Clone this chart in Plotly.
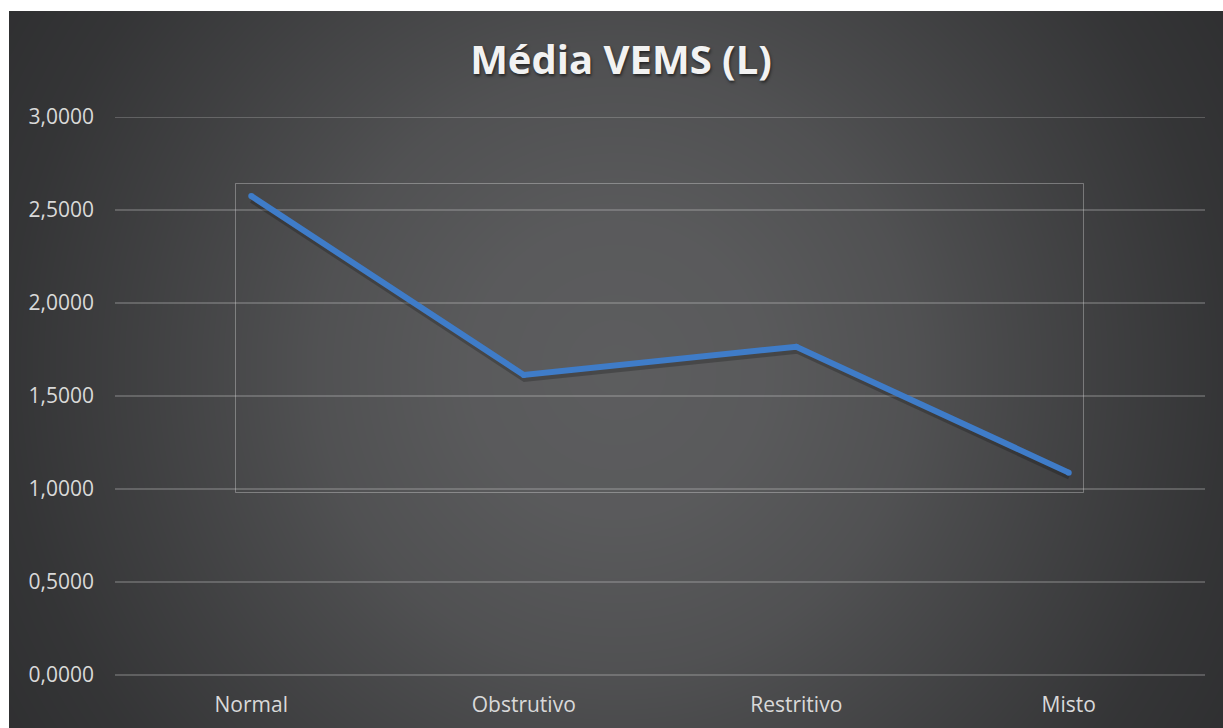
import base64
import struct
import zlib

import numpy as np
import plotly.graph_objects as go

# ---- data -------------------------------------------------------------
categories = ["Normal", "Obstrutivo", "Restritivo", "Misto"]
vems_mean = [2.575, 1.613, 1.765, 1.088]

y_range = [0, 3]
y_dtick = 0.5

# ---- figure geometry (px) ---------------------------------------------
W, H = 1223, 728
ML, MR, MT, MB = 115, 18, 117, 53
plot_w = W - ML - MR
plot_h = H - MT - MB

# chart-area panel (dark gradient) inside a thin white border
PANEL_X0, PANEL_Y0 = 9, 11
panel_w, panel_h = W - PANEL_X0, H - PANEL_Y0


def radial_panel_png(w, h):
    """Dark radial gradient, lighter in the middle, encoded as a PNG."""
    yy, xx = np.mgrid[0:h, 0:w].astype(float)
    cx, cy = w / 2.0, h / 2.0
    r = np.hypot(xx - cx, yy - cy)
    stops_r = [0, 150, 300, 360, 480, 607, 720]
    stops_v = [93, 90, 81, 75, 64, 53, 47]
    v = np.interp(r, stops_r, stops_v)
    rgb = np.stack([v, v + 0.5, v + 2.0], axis=-1).clip(0, 255).astype(np.uint8)
    raw = b"".join(b"\x00" + rgb[i].tobytes() for i in range(h))

    def chunk(tag, data):
        return (struct.pack(">I", len(data)) + tag + data
                + struct.pack(">I", zlib.crc32(tag + data) & 0xFFFFFFFF))

    ihdr = struct.pack(">IIBBBBB", w, h, 8, 2, 0, 0, 0)
    png = (b"\x89PNG\r\n\x1a\n" + chunk(b"IHDR", ihdr)
           + chunk(b"IDAT", zlib.compress(raw, 9)) + chunk(b"IEND", b""))
    return "data:image/png;base64," + base64.b64encode(png).decode()


bg_src = radial_panel_png(panel_w, panel_h)

LINE_BLUE = "#3f7cc8"
LABEL_GREY = "#d9d9d9"
GRID = "rgba(217,217,217,0.25)"

# soft drop shadow: same series drawn on axes nudged a few pixels
shadow_dx_px, shadow_dy_px = 1, 3
x_units_per_px = 4.0 / plot_w
y_units_per_px = (y_range[1] - y_range[0]) / plot_h

fig = go.Figure()

# shadow layer (x2/y2, shifted) sits between the grid and the series
fig.add_trace(go.Scatter(
    x=categories, y=vems_mean, mode="lines",
    line=dict(color="rgba(0,0,0,0.22)", width=8),
    xaxis="x2", yaxis="y2", hoverinfo="skip", showlegend=False,
))

# the series itself on x3/y3 (same ranges as the visible axes)
fig.add_trace(go.Scatter(
    x=categories, y=vems_mean, mode="lines+markers",
    line=dict(color=LINE_BLUE, width=6),
    marker=dict(color=LINE_BLUE, size=6, line=dict(width=0)),
    xaxis="x3", yaxis="y3",
    name="Média VEMS (L)", showlegend=False,
))

# keeps the main category axis populated for its tick labels
fig.add_trace(go.Scatter(
    x=categories, y=vems_mean, mode="lines",
    line=dict(width=0, color="rgba(0,0,0,0)"),
    hoverinfo="skip", showlegend=False,
))

fig.update_layout(
    width=W, height=H,
    margin=dict(l=ML, r=MR, t=MT, b=MB, pad=0, autoexpand=False),
    paper_bgcolor="white",
    plot_bgcolor="rgba(0,0,0,0)",
    separators=", ",
    font=dict(family="Open Sans, sans-serif", size=21, color=LABEL_GREY),
    title=dict(
        text="Média VEMS (L)",
        x=621 / W, xref="container", xanchor="center",
        y=1 - 60 / H, yref="container", yanchor="middle",
        automargin=False,
        font=dict(family="Open Sans, sans-serif", size=40, color="#f2f2f2",
                  weight="bold", shadow="1px 2px 3px rgba(0,0,0,0.55)"),
    ),
    xaxis=dict(
        type="category", range=[-0.5, 3.5], automargin=False,
        showgrid=False, zeroline=False, showline=False, ticks="",
        tickfont=dict(size=21, color=LABEL_GREY),
        ticklabelstandoff=15,
    ),
    yaxis=dict(
        range=y_range, dtick=y_dtick, tickformat=".4f", automargin=False,
        showgrid=True, gridcolor=GRID, gridwidth=2,
        zeroline=True, zerolinecolor=GRID, zerolinewidth=2,
        showline=False, ticks="",
        tickfont=dict(size=21, color=LABEL_GREY),
        ticklabelstandoff=20,
    ),
    xaxis2=dict(
        type="category", overlaying="x",
        range=[-0.5 - shadow_dx_px * x_units_per_px,
               3.5 - shadow_dx_px * x_units_per_px],
        visible=False,
    ),
    yaxis2=dict(
        overlaying="y",
        range=[y_range[0] + shadow_dy_px * y_units_per_px,
               y_range[1] + shadow_dy_px * y_units_per_px],
        visible=False,
    ),
    xaxis3=dict(type="category", overlaying="x", range=[-0.5, 3.5], visible=False),
    yaxis3=dict(overlaying="y", range=y_range, visible=False),
    images=[dict(
        source=bg_src, xref="paper", yref="paper",
        x=(PANEL_X0 - ML) / plot_w, y=(H - MB - PANEL_Y0) / plot_h,
        sizex=panel_w / plot_w, sizey=panel_h / plot_h,
        xanchor="left", yanchor="top", sizing="stretch", layer="below",
    )],
    shapes=[
        # top gridline at the upper end of the value axis
        dict(type="line", xref="paper", yref="y",
             x0=0, x1=1, y0=y_range[1], y1=y_range[1],
             line=dict(color=GRID, width=2), layer="below"),
        dict(type="rect", xref="paper", yref="paper",
             x0=(235.5 - ML) / plot_w, x1=(1083.5 - ML) / plot_w,
             y0=(H - MB - 492.5) / plot_h, y1=(H - MB - 183.5) / plot_h,
             line=dict(color="rgba(255,255,255,0.3)", width=1),
             fillcolor="rgba(0,0,0,0)", layer="below"),
    ],
)

fig.write_html("out.html")
